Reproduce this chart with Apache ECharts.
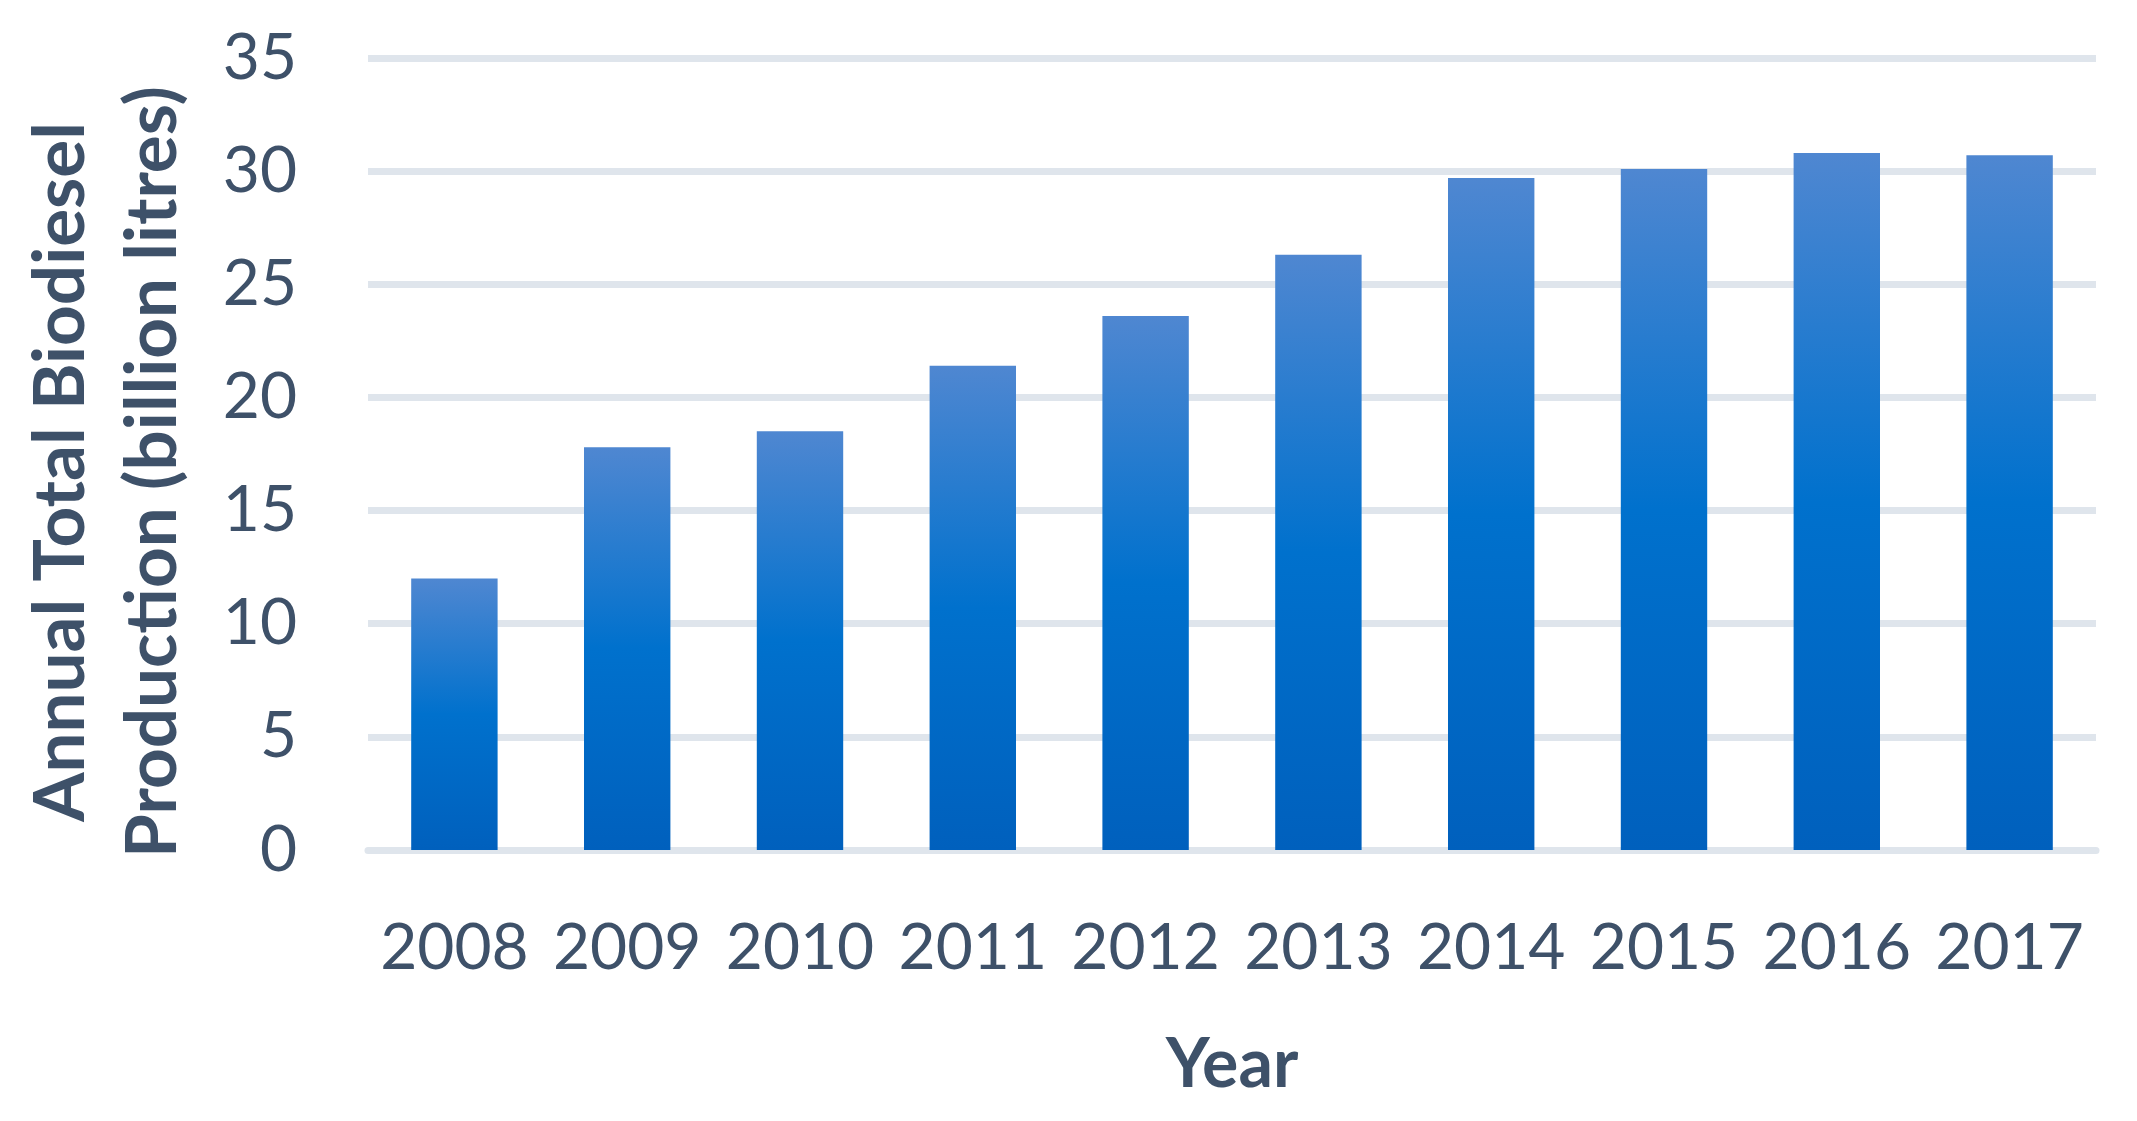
<!DOCTYPE html>
<html>
<head>
<meta charset="utf-8">
<script src="https://cdn.jsdelivr.net/npm/echarts@6/dist/echarts.min.js"></script>
<style>
  html, body { margin: 0; padding: 0; background: #fff; }
  #chart { width: 2137px; height: 1121px; }
</style>
</head>
<body>
<div id="chart"></div>
<script>
// data
const years = ['2008', '2009', '2010', '2011', '2012', '2013', '2014', '2015', '2016', '2017']
const production = [12.0, 17.8, 18.5, 21.4, 23.6, 26.3, 29.7, 30.1, 30.8, 30.7]
const yTicks = { min: 0, max: 35, interval: 5 }

const textColor = '#3e5169'
const gridColor = '#dfe5ec'
const font = 'Lato, "Open Sans", sans-serif'

const chart = echarts.init(document.getElementById('chart'))
chart.setOption({
  backgroundColor: '#ffffff',
  grid: { left: 368, right: 41, top: 58, bottom: 271, outerBoundsMode: 'none', containLabel: false },
  xAxis: {
    type: 'category',
    data: years,
    name: 'Year',
    nameLocation: 'middle',
    nameGap: 181,
    nameTextStyle: { color: textColor, fontSize: 68, fontWeight: 'bold', fontFamily: font },
    axisLine: { show: true, lineStyle: { color: gridColor, width: 7 } },
    axisTick: { show: false },
    axisLabel: { color: textColor, fontSize: 64, fontFamily: font, margin: 66, interval: 0 }
  },
  yAxis: {
    type: 'value',
    min: yTicks.min,
    max: yTicks.max,
    interval: yTicks.interval,
    name: 'Annual Total Biodiesel\nProduction (billion litres)',
    nameLocation: 'middle',
    nameRotate: 90,
    nameGap: 169,
    nameTextStyle: { color: textColor, fontSize: 71, fontWeight: 'bold', fontFamily: font, lineHeight: 92, padding: [0, 36, 0, 0] },
    axisLine: { show: false },
    axisTick: { show: false },
    splitLine: { lineStyle: { color: gridColor, width: 7 } },
    axisLabel: { color: textColor, fontSize: 64, fontFamily: font, margin: 71 }
  },
  series: [{
    type: 'bar',
    data: production,
    barWidth: '50%',
    itemStyle: {
      color: new echarts.graphic.LinearGradient(0, 0, 0, 1, [
        { offset: 0, color: '#4f87d1' },
        { offset: 0.5, color: '#0071cd' },
        { offset: 1, color: '#0060bd' }
      ])
    }
  }]
})
</script>
</body>
</html>
